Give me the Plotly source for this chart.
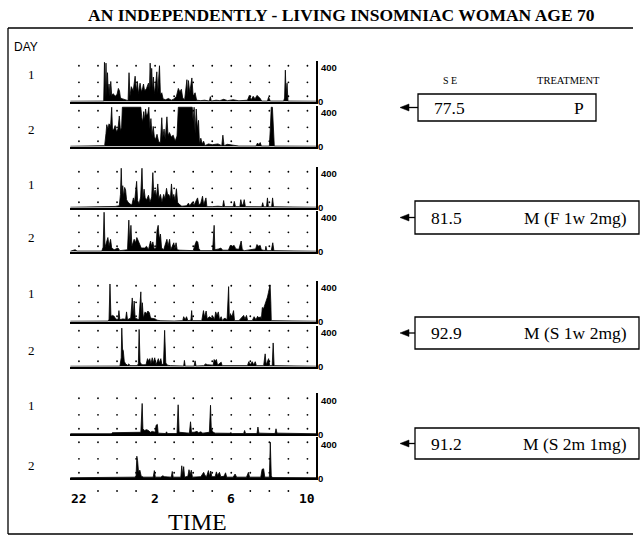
import plotly.graph_objects as go

# ---------------- data ----------------
title_text = "AN INDEPENDENTLY - LIVING INSOMNIAC WOMAN AGE 70"
day_labels = ["1", "2", "1", "2", "1", "2", "1", "2"]
se_values = ["77.5", "81.5", "92.9", "91.2"]
treatments = ["P", "M (F 1w 2mg)", "M (S 1w 2mg)", "M (S 2m 1mg)"]
tick_hours = [22, 26, 30, 34]
tick_labels = ["22", "2", "6", "10"]
grid_hours = list(range(22, 35))
dot_levels = [60, 220, 410]
between_hours = [23, 24, 25, 27, 28, 29, 31, 32, 33]

# activity (time in hours, 24+ = next morning ; counts)
g1_day1 = [(21.55,3),(23.30,5),(23.34,450),(23.38,40),(23.42,440),(23.46,60),(23.50,330),(23.54,90),(23.58,200),(23.63,60),(23.67,230),(23.72,70),(23.80,90),(23.90,60),(24.00,80),(24.07,150),(24.13,120),(24.18,40),(24.30,30),(24.45,20),(24.58,10),(24.63,330),(24.68,60),(24.75,170),(24.85,120),(24.95,290),(25.02,120),(25.07,230),(25.12,90),(25.21,210),(25.28,110),(25.35,160),(25.39,200),(25.45,120),(25.55,150),(25.65,210),(25.70,120),(25.74,440),(25.78,160),(25.82,380),(25.87,120),(25.91,280),(25.96,90),(26.02,180),(26.09,340),(26.14,100),(26.19,220),(26.23,410),(26.28,80),(26.35,100),(26.42,30),(26.55,20),(26.70,35),(26.85,15),(27.00,30),(27.12,60),(27.22,150),(27.30,110),(27.38,140),(27.45,40),(27.55,20),(27.67,250),(27.71,60),(27.75,240),(27.82,100),(27.93,270),(28.00,60),(28.10,100),(28.18,15),(28.40,10),(28.60,15),(28.85,5),(28.90,55),(28.95,5),(29.20,15),(29.40,10),(29.60,25),(29.80,10),(30.10,20),(30.40,8),(30.85,15),(30.95,70),(31.05,20),(31.15,60),(31.25,30),(31.35,70),(31.50,40),(31.60,5),(31.90,5),(31.96,50),(32.05,5),(32.75,5),(32.80,40),(32.84,360),(32.88,80),(32.93,210),(32.98,5),(34.45,3)]
g1_day2 = [(21.55,3),(23.25,8),(23.35,10),(23.42,150),(23.46,250),(23.52,200),(23.58,260),(23.66,230),(23.72,450),(23.76,200),(23.82,190),(23.90,240),(23.97,170),(24.05,200),(24.12,350),(24.18,180),(24.24,220),(24.28,450),(25.25,450),(25.30,330),(25.35,280),(25.40,400),(25.45,300),(25.50,430),(25.55,350),(25.62,380),(25.67,450),(25.72,200),(25.78,320),(25.84,120),(25.90,230),(25.96,110),(26.02,80),(26.10,140),(26.18,60),(26.28,40),(26.35,330),(26.40,100),(26.47,200),(26.53,80),(26.62,340),(26.68,120),(26.75,160),(26.85,110),(26.95,130),(27.05,60),(27.15,120),(27.22,450),(27.95,450),(28.00,280),(28.05,450),(28.10,150),(28.16,430),(28.22,200),(28.28,300),(28.33,30),(28.40,95),(28.48,30),(28.55,60),(28.62,10),(28.80,30),(29.00,20),(29.30,30),(29.50,10),(29.56,130),(29.62,10),(29.80,25),(30.10,15),(30.40,5),(31.30,5),(31.38,40),(31.45,20),(31.52,45),(31.58,5),(32.00,5),(32.05,200),(32.10,450),(32.16,450),(32.22,60),(32.26,5),(34.45,3)]
g2_day1 = [(21.55,3),(23.70,5),(23.90,12),(24.12,20),(24.18,150),(24.22,450),(24.26,150),(24.30,250),(24.35,120),(24.40,230),(24.45,200),(24.50,90),(24.58,60),(24.68,40),(24.78,30),(24.86,110),(24.92,60),(25.03,300),(25.08,80),(25.16,40),(25.24,120),(25.31,450),(25.36,100),(25.42,210),(25.48,110),(25.56,90),(25.65,140),(25.73,60),(25.82,120),(25.88,400),(25.93,150),(26.00,200),(26.07,120),(26.14,270),(26.20,100),(26.28,150),(26.36,60),(26.45,150),(26.52,100),(26.60,220),(26.66,140),(26.72,150),(26.80,100),(26.86,270),(26.92,100),(26.98,150),(27.05,80),(27.12,215),(27.18,60),(27.25,40),(27.40,15),(27.65,20),(27.75,50),(27.82,20),(27.95,60),(28.05,30),(28.23,110),(28.30,30),(28.40,50),(28.49,130),(28.55,30),(28.67,110),(28.72,10),(29.00,10),(29.30,15),(29.55,10),(29.60,80),(29.65,10),(30.10,10),(30.16,70),(30.22,10),(30.45,10),(30.50,90),(30.56,30),(30.62,30),(30.68,90),(30.74,10),(31.60,8),(31.65,55),(31.70,8),(31.85,8),(31.90,110),(31.95,8),(32.12,8),(32.17,110),(32.22,8),(34.45,3)]
g2_day2 = [(21.55,3),(21.80,20),(21.90,5),(23.20,5),(23.27,50),(23.32,450),(23.37,50),(23.45,120),(23.52,160),(23.58,60),(23.66,140),(23.72,40),(23.85,20),(24.05,40),(24.15,10),(24.55,20),(24.62,360),(24.67,80),(24.73,300),(24.78,60),(24.90,140),(24.97,100),(25.04,160),(25.12,120),(25.20,80),(25.27,40),(25.45,40),(25.55,60),(25.65,20),(25.76,120),(25.82,60),(25.88,110),(25.95,30),(26.05,40),(26.10,240),(26.16,300),(26.22,140),(26.28,200),(26.34,40),(26.45,20),(26.62,140),(26.68,60),(26.76,140),(26.82,20),(26.98,100),(27.04,30),(27.10,100),(27.16,20),(27.30,15),(28.00,10),(28.10,80),(28.17,120),(28.24,110),(28.30,30),(28.40,10),(29.02,10),(29.10,300),(29.14,20),(29.35,30),(29.45,40),(29.55,15),(29.85,15),(29.95,70),(30.05,60),(30.15,70),(30.24,30),(30.40,25),(30.52,120),(30.58,20),(30.70,10),(31.28,30),(31.35,80),(31.43,60),(31.52,70),(31.58,20),(31.78,10),(31.82,60),(31.87,10),(32.10,10),(32.18,100),(32.24,10),(34.45,3)]
g3_day1 = [(21.55,3),(23.50,5),(23.58,20),(23.63,430),(23.68,60),(23.76,70),(23.85,60),(23.93,30),(24.05,20),(24.10,125),(24.15,20),(24.30,30),(24.45,25),(24.50,110),(24.55,20),(24.72,40),(24.80,270),(24.85,60),(24.90,235),(24.95,40),(25.05,30),(25.15,20),(25.25,340),(25.29,60),(25.33,215),(25.38,40),(25.47,110),(25.55,90),(25.62,120),(25.70,100),(25.76,40),(25.85,35),(26.00,30),(26.10,15),(26.30,8),(27.00,5),(27.45,10),(27.50,55),(27.58,20),(27.65,55),(27.72,10),(27.88,15),(27.92,125),(27.96,10),(28.45,10),(28.54,125),(28.60,50),(28.68,120),(28.74,30),(28.85,55),(28.95,40),(29.05,55),(29.12,20),(29.18,110),(29.25,70),(29.32,110),(29.38,20),(29.47,55),(29.53,10),(29.62,35),(29.70,35),(29.78,20),(29.86,400),(29.90,30),(29.96,90),(30.02,40),(30.12,125),(30.17,10),(30.40,10),(30.65,70),(30.72,30),(30.80,70),(30.86,10),(31.10,10),(31.20,55),(31.30,20),(31.38,60),(31.46,40),(31.52,55),(31.58,30),(31.63,160),(31.70,150),(31.78,200),(31.85,230),(31.90,280),(31.95,330),(32.00,410),(32.04,420),(32.08,200),(32.10,10),(34.45,3)]
g3_day2 = [(21.55,3),(24.15,5),(24.22,100),(24.25,440),(24.29,200),(24.33,180),(24.38,60),(24.45,30),(24.55,15),(24.62,30),(24.68,10),(25.05,10),(25.12,30),(25.16,425),(25.21,50),(25.30,20),(25.40,20),(25.52,20),(25.60,90),(25.66,60),(25.72,90),(25.78,30),(25.85,100),(25.90,40),(25.98,100),(26.05,20),(26.17,90),(26.22,40),(26.30,90),(26.36,20),(26.44,30),(26.50,415),(26.56,40),(26.65,15),(26.80,10),(27.50,5),(27.54,70),(27.58,5),(28.05,5),(28.10,65),(28.15,5),(28.55,10),(28.65,30),(28.75,20),(29.05,15),(29.10,80),(29.16,60),(29.22,80),(29.28,15),(29.47,50),(29.52,10),(30.85,10),(30.92,55),(31.00,20),(31.10,55),(31.18,20),(31.26,55),(31.32,10),(31.70,10),(31.78,145),(31.83,20),(31.96,90),(32.02,10),(32.15,10),(32.20,270),(32.25,10),(34.45,3)]
g4_day1 = [(21.55,3),(23.70,3),(23.75,15),(24.80,15),(25.25,20),(25.32,350),(25.36,60),(25.45,40),(25.55,50),(25.65,40),(25.75,20),(25.85,30),(26.00,20),(26.05,100),(26.12,110),(26.16,10),(26.55,5),(26.60,25),(26.65,5),(27.15,5),(27.21,335),(27.26,20),(27.45,15),(27.55,10),(27.80,10),(27.86,140),(27.91,20),(28.05,20),(28.20,30),(28.28,15),(28.40,25),(28.50,10),(28.85,20),(28.91,330),(28.95,60),(29.02,25),(29.15,10),(29.90,8),(29.98,15),(30.05,5),(30.65,5),(30.70,40),(30.75,5),(31.35,5),(31.40,80),(31.45,10),(32.30,5),(32.35,60),(32.40,10),(34.45,3)]
g4_day2 = [(21.55,3),(23.95,3),(24.00,10),(24.95,10),(25.00,30),(25.04,250),(25.08,200),(25.13,70),(25.20,90),(25.27,20),(25.40,10),(25.90,10),(25.96,85),(26.01,10),(26.30,10),(26.40,25),(26.50,15),(26.85,10),(26.90,75),(26.95,10),(27.35,10),(27.40,140),(27.45,30),(27.50,130),(27.55,10),(27.72,20),(27.78,95),(27.84,40),(27.90,90),(27.96,10),(28.40,15),(28.48,40),(28.55,65),(28.62,30),(28.70,15),(28.80,85),(28.86,20),(28.92,80),(28.98,15),(29.15,15),(29.22,70),(29.28,30),(29.38,65),(29.45,15),(29.62,20),(29.70,60),(29.76,10),(30.10,10),(30.20,45),(30.28,10),(30.80,10),(30.90,65),(30.96,10),(31.55,10),(31.62,100),(31.70,105),(31.76,10),(32.00,10),(32.05,410),(32.10,30),(32.14,5),(34.45,3)]

panels = [g1_day1, g1_day2, g2_day1, g2_day2, g3_day1, g3_day2, g4_day1, g4_day2]

# ---------------- layout helpers (pixels) ----------------
W, H = 642, 540
def px(x):
    return x / W
def py(y):
    return 1 - y / H

X0, X1 = 70, 316
XR = [21.53, 34.45]
YR = [0, 470]
baselines = [101.5, 146.5, 207.5, 251.5, 321.5, 366.5, 434, 478]
PANEL_H = 41
day_y = [75, 130, 185, 237, 293, 350, 405, 465]
boxes = [(418, 94, 596, 121), (415, 201, 639, 234), (415, 317, 639, 349), (415, 428, 639, 459)]

fig = go.Figure()
layout = dict(
    width=W, height=H, margin=dict(l=0, r=0, t=0, b=0),
    paper_bgcolor="white", plot_bgcolor="rgba(0,0,0,0)", showlegend=False,
)

for i, data in enumerate(panels):
    k = i + 1
    xa = "x" if k == 1 else f"x{k}"
    ya = "y" if k == 1 else f"y{k}"
    ts = [p[0] for p in data]
    vs = [p[1] for p in data]
    fig.add_trace(go.Scatter(x=ts, y=vs, mode="lines", fill="tozeroy",
                             line=dict(color="black", width=0.8), fillcolor="black",
                             xaxis=xa, yaxis=ya, hoverinfo="skip"))
    dx = [h for lv in dot_levels for h in grid_hours]
    dy = [lv for lv in dot_levels for h in grid_hours]
    fig.add_trace(go.Scatter(x=dx, y=dy, mode="markers",
                             marker=dict(size=1.8, color="black"),
                             xaxis=xa, yaxis=ya, hoverinfo="skip"))
    b = baselines[i]
    layout["xaxis" if k == 1 else f"xaxis{k}"] = dict(
        domain=[px(X0), px(X1)], range=XR, anchor=ya, showline=True, linewidth=2.2,
        linecolor="black", showticklabels=False, ticks="", showgrid=False, zeroline=False)
    layout["yaxis" if k == 1 else f"yaxis{k}"] = dict(
        domain=[py(b), py(b - PANEL_H)], range=YR, anchor=xa, side="right", showline=True,
        linewidth=1.6, linecolor="black", showticklabels=False, ticks="", showgrid=False,
        zeroline=False)

# bottom row of dots between hour labels
fig.add_trace(go.Scatter(x=between_hours, y=[0.5] * len(between_hours), mode="markers",
                         marker=dict(size=1.8, color="black"), xaxis="x9", yaxis="y9",
                         hoverinfo="skip"))
layout["xaxis9"] = dict(domain=[px(X0), px(X1)], range=XR, anchor="y9", visible=False)
layout["yaxis9"] = dict(domain=[py(496), py(486)], range=[0, 1], anchor="x9", visible=False)

ann = []
def text(t, x, y, size, family="Liberation Serif", xanchor="center", xref="paper"):
    ann.append(dict(text=t, x=x, y=py(y), xref=xref, yref="paper", xanchor=xanchor,
                    yanchor="middle", showarrow=False,
                    font=dict(family=family, size=size, color="black")))

text("<b>" + title_text + "</b>", px(342), 15, 17.5)
text("DAY", px(12), 47, 12, family="Liberation Sans", xanchor="left")
for i, lab in enumerate(day_labels):
    text(lab, px(31), day_y[i], 13)
for b in baselines:
    text("<b>400</b>", px(319), b - 34, 9.5, family="Liberation Sans", xanchor="left")
    text("<b>0</b>", px(316), b, 9.5, family="Liberation Sans", xanchor="left")
for h, lab in zip(tick_hours, tick_labels):
    text("<b>" + lab + "</b>", h, 498, 13, family="DejaVu Sans Mono", xref="x8")
text("TIME", px(197), 522, 24)
text("S E", px(450), 80, 10)
text("TREATMENT", px(568), 80, 10.5)

shapes = []
for (x0, y0, x1, y1), se, tr in zip(boxes, se_values, treatments):
    shapes.append(dict(type="rect", xref="paper", yref="paper", x0=px(x0), x1=px(x1),
                       y0=py(y1), y1=py(y0), line=dict(color="black", width=1.3)))
    yc = (y0 + y1) / 2
    shapes.append(dict(type="line", xref="paper", yref="paper", x0=px(407), x1=px(x0),
                       y0=py(yc), y1=py(yc), line=dict(color="black", width=1.3)))
    shapes.append(dict(type="path", xref="paper", yref="paper",
                       path=f"M {px(400)},{py(yc)} L {px(409)},{py(yc-3.5)} L {px(409)},{py(yc+3.5)} Z",
                       fillcolor="black", line=dict(color="black", width=0.5)))
    text(se, px(x0 + 14), yc, 17.5, xanchor="left")
    text(tr, px(x1 - 10), yc, 17.5, xanchor="right")

# outer frame (left, top, bottom)
for (a, b_, c, d) in [(8, 28, 8, 534), (8, 28, 633, 28), (8, 534, 633, 534)]:
    shapes.append(dict(type="line", xref="paper", yref="paper", x0=px(a), y0=py(b_),
                       x1=px(c), y1=py(d), line=dict(color="black", width=1.3)))

layout["annotations"] = ann
layout["shapes"] = shapes
fig.update_layout(**layout)
fig.write_html("out.html", config={"displayModeBar": False},
               post_script="document.body.style.margin='0';document.body.style.overflow='hidden';")
